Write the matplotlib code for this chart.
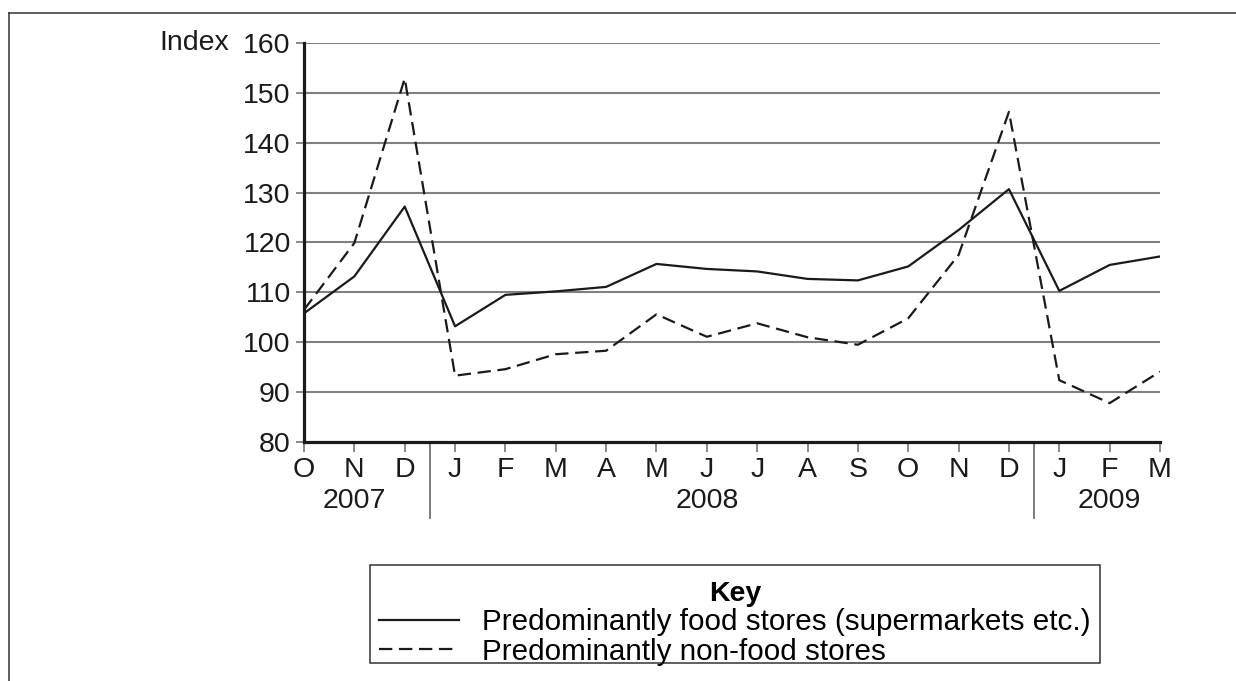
import matplotlib
matplotlib.use('Agg')
import matplotlib.pyplot as plt
import matplotlib.transforms as mtransforms
from matplotlib.lines import Line2D
from matplotlib.patches import Rectangle

plt.rcParams['font.family'] = ['Liberation Sans', 'DejaVu Sans']

# data
months = ['O', 'N', 'D', 'J', 'F', 'M', 'A', 'M', 'J', 'J', 'A', 'S',
          'O', 'N', 'D', 'J', 'F', 'M']
years = ['2007', '2008', '2009']
year_label_pos = [1, 8, 16]
year_breaks = [2.5, 14.5]
food = [105.8, 113.2, 127.2, 103.2, 109.5, 110.2, 111.1, 115.7, 114.7, 114.2,
        112.7, 112.4, 115.2, 122.5, 130.7, 110.3, 115.5, 117.2]
nonfood = [106.5, 119.9, 152.9, 93.3, 94.6, 97.6, 98.3, 105.6, 101.1, 103.8,
           101.0, 99.5, 104.8, 117.5, 146.2, 92.4, 87.8, 94.1]
yticks = [80, 90, 100, 110, 120, 130, 140, 150, 160]

W, H = 1236, 681
fig = plt.figure(figsize=(W / 100, H / 100), dpi=100)
ax = fig.add_axes([304 / W, 1 - 442 / H, (1160 - 304) / W, (442 - 43) / H])

x = list(range(len(months)))
fs = 20.5

# gridlines
ax.set_ylim(80, 160)
ax.set_xlim(0, len(months) - 1)
ax.set_yticks(yticks)
ax.set_xticks(x)
ax.set_xticklabels(months)
for v in yticks[1:]:
    ax.axhline(v, color='#808080', lw=1.5, zorder=1)

l1, = ax.plot(x, food, color='#1a1a1a', lw=1.6, zorder=3,
              label='Predominantly food stores (supermarkets etc.)')
l2, = ax.plot(x, nonfood, color='#1a1a1a', lw=1.6, zorder=3,
              dashes=(6, 3), label='Predominantly non-food stores')

# spines and ticks
for s in ['top', 'right']:
    ax.spines[s].set_visible(False)
ax.spines['left'].set_linewidth(2.3)
ax.spines['bottom'].set_linewidth(2.3)
ax.spines['left'].set_color('#1a1a1a')
ax.spines['bottom'].set_color('#1a1a1a')
ax.tick_params(axis='y', length=5.5, width=1.3, color='#808080', pad=4,
               labelsize=fs, labelcolor='#1a1a1a')
ax.tick_params(axis='x', length=7, width=1.3, color='#808080', pad=4,
               labelsize=fs, labelcolor='#1a1a1a')

# year separators and labels
trans = mtransforms.blended_transform_factory(ax.transData, ax.transAxes)
for b in year_breaks:
    ax.plot([b, b], [0, -76 / 399], transform=trans, color='#707070',
            lw=1.3, clip_on=False)
for p, yr in zip(year_label_pos, years):
    ax.text(p, -59 / 399, yr, transform=trans, ha='center', va='center',
            fontsize=fs, color='#1a1a1a')

fig.text(229 / W, 1 - 43 / H, 'Index', ha='right', va='center',
         fontsize=fs, color='#1a1a1a')

# outer frame
fig.add_artist(Line2D([9 / W, 9 / W], [0, 1 - 12.5 / H], transform=fig.transFigure,
                      color='#333333', lw=1.1))
fig.add_artist(Line2D([9 / W, 1], [1 - 12.5 / H, 1 - 12.5 / H],
                      transform=fig.transFigure, color='#333333', lw=1.1))

# key: frame drawn separately so the text can sit lower in the box
fig.add_artist(Rectangle((370 / W, 1 - 663 / H), (1100 - 370) / W, (663 - 565) / H,
                         transform=fig.transFigure, fill=False,
                         edgecolor='#333333', lw=1.1))
leg = fig.legend(handles=[l1, l2], loc='upper left',
                 bbox_to_anchor=(370 / W, 1 - 572 / H), title='Key',
                 fontsize=21.3, title_fontproperties={'weight': 'bold', 'size': 20.5},
                 frameon=False, handlelength=2.7, handletextpad=0.8,
                 labelspacing=0.05, borderpad=0.3, borderaxespad=0)

fig.savefig('out.png', dpi=100)
